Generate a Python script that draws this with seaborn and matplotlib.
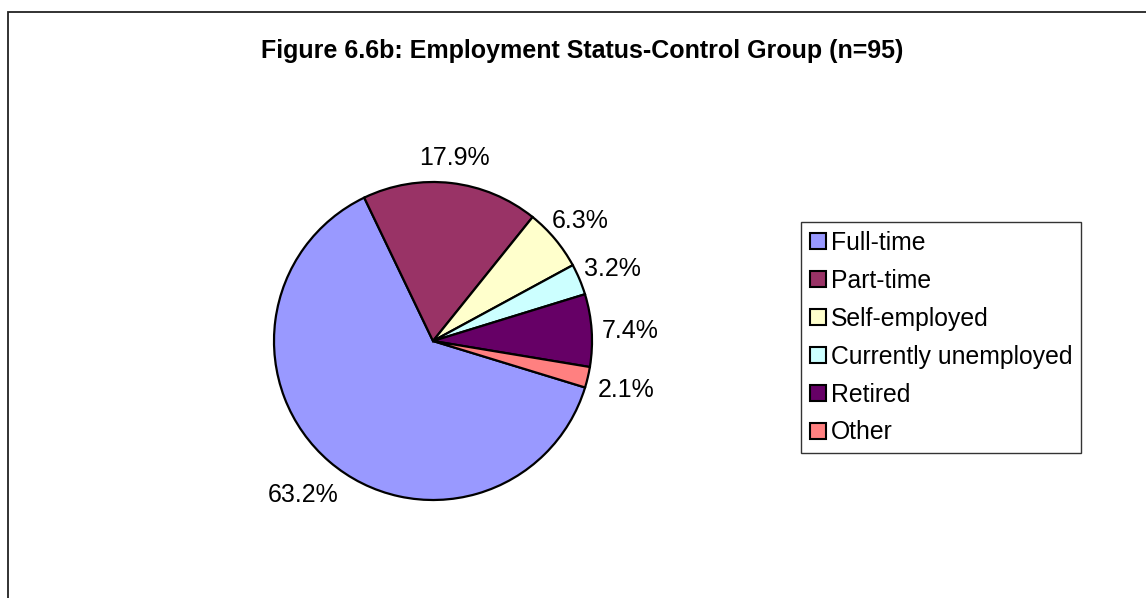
import numpy as np
import seaborn as sns
import matplotlib.pyplot as plt
from matplotlib.patches import Patch, Rectangle

# Datos del gráfico (n=95)
categorias = ["Full-time", "Part-time", "Self-employed",
              "Currently unemployed", "Retired", "Other"]
conteos = [60, 17, 6, 3, 7, 2]
colores_hex = ["#9999FF", "#993366", "#FFFFCC", "#CCFFFF", "#660066", "#FF8080"]
titulo = "Figure 6.6b: Employment Status-Control Group (n=95)"

sns.set_theme(style="white")
plt.rcParams['font.family'] = ['Liberation Sans', 'DejaVu Sans']
plt.rcParams['text.color'] = 'black'
colores = sns.color_palette(colores_hex)

fig = plt.figure(figsize=(11.46, 5.98), dpi=100)
fig.patch.set_facecolor("white")

# marco exterior del gráfico
fig.add_artist(Rectangle((7.5 / 1146, -0.05), 1.2, 1 - 12 / 598 + 0.05,
                         transform=fig.transFigure, fill=False,
                         edgecolor="#222222", linewidth=1.3))

# ejes del pastel: centro (433, 341), radio 159 px
ax = fig.add_axes([274 / 1146, 98 / 598, 318 / 1146, 318 / 598])
cunas, _, textos = ax.pie(conteos, colors=colores, startangle=-17, counterclock=False,
                          autopct="%.1f%%", pctdistance=1.22, radius=1,
                          wedgeprops=dict(edgecolor="black", linewidth=1.6),
                          textprops=dict(fontsize=18, color="black"))

# etiquetas de arriba un poco más cerca del borde (como en Excel)
for cuna, txt in zip(cunas, textos):
    ang = np.deg2rad((cuna.theta1 + cuna.theta2) / 2)
    dist = 1.25 - 0.07 * max(np.sin(ang), 0)
    txt.set_position((dist * np.cos(ang), dist * np.sin(ang) - 0.02))

ax.set_xlim(-1, 1)
ax.set_ylim(-1, 1)
ax.set_aspect("equal")
ax.axis("off")

fig.text(582 / 1146, 1 - 51 / 598, titulo, ha="center", va="center",
         fontsize=18, fontweight="bold", color="black")

manejadores = [Patch(facecolor=c, edgecolor="black", linewidth=1.5) for c in colores]
leg = fig.legend(manejadores, categorias, loc="upper left",
                 bbox_to_anchor=(801 / 1146, 1 - 222 / 598), borderaxespad=0,
                 fontsize=17.8, frameon=True, fancybox=False, shadow=False,
                 handlelength=0.65, handleheight=0.65, handletextpad=0.2,
                 labelspacing=0.565, borderpad=0.35)
leg.get_frame().set_edgecolor("black")
leg.get_frame().set_linewidth(1.0)
for t in leg.get_texts():
    t.set_color("black")

fig.savefig("out.png", dpi=100, facecolor="white")
